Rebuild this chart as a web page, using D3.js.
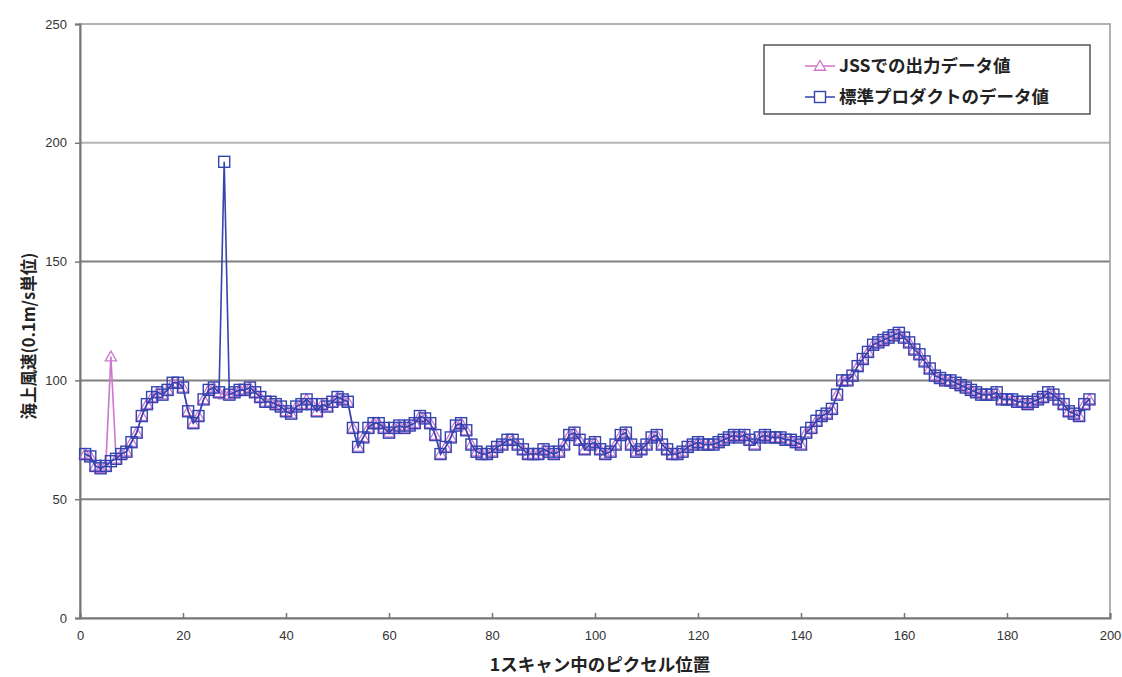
<!DOCTYPE html>
<html>
<head>
<meta charset="utf-8">
<script src="https://cdn.jsdelivr.net/npm/d3@7"></script>
<style>
  html, body { margin: 0; padding: 0; background: #fff; }
  svg { display: block; }
  .tick text { font-family: "Liberation Sans", Arial, sans-serif; font-size: 13px; fill: #333; }
</style>
</head>
<body>
<svg id="chart" width="1122" height="677"></svg>
<script>
// Pixel positions along one scan line
const pixelIndex = d3.range(1, 197);

// Standard product wind speed (0.1 m/s units)
const standardValues = [
  69, 68, 64, 63, 64, 66, 67, 69, 70, 74,
  78, 85, 90, 93, 95, 94, 96, 99, 99, 97,
  87, 82, 85, 92, 96, 97, 95, 192, 94, 95,
  96, 96, 97, 95, 93, 91, 91, 90, 89, 87,
  86, 89, 90, 92, 90, 87, 90, 89, 91, 93,
  92, 91, 80, 72, 76, 80, 82, 82, 80, 78,
  80, 81, 80, 81, 82, 85, 84, 82, 77, 69,
  72, 76, 81, 82, 79, 73, 70, 69, 69, 70,
  72, 73, 75, 75, 73, 71, 69, 69, 69, 71,
  70, 69, 70, 73, 77, 78, 75, 71, 73, 74,
  71, 69, 70, 73, 77, 78, 73, 70, 71, 73,
  76, 77, 73, 71, 69, 69, 70, 72, 73, 74,
  73, 73, 73, 74, 75, 76, 77, 76, 77, 75,
  73, 76, 77, 76, 76, 76, 75, 75, 74, 73,
  78, 80, 83, 85, 86, 88, 94, 100, 100, 102,
  106, 109, 112, 115, 116, 117, 118, 119, 120, 118,
  116, 113, 111, 108, 105, 102, 101, 100, 100, 99,
  98, 97, 96, 95, 94, 94, 94, 95, 92, 92,
  92, 91, 91, 90, 91, 92, 93, 95, 94, 92,
  90, 87, 86, 85, 90, 92
];

// JSS output wind speed (0.1 m/s units)
const jssValues = [
  69, 68, 64, 63, 64, 110, 67, 69, 70, 74,
  78, 85, 90, 93, 95, 94, 96, 99, 99, 97,
  87, 82, 85, 92, 96, 97, 95, 94, 94, 95,
  96, 96, 97, 95, 93, 91, 91, 90, 89, 87,
  86, 89, 90, 92, 90, 87, 90, 89, 91, 93,
  92, 91, 80, 72, 76, 80, 82, 82, 80, 78,
  80, 81, 80, 81, 82, 85, 84, 82, 77, 69,
  72, 76, 81, 82, 79, 73, 70, 69, 69, 70,
  72, 73, 75, 75, 73, 71, 69, 69, 69, 71,
  70, 69, 70, 73, 77, 78, 75, 71, 73, 74,
  71, 69, 70, 73, 77, 78, 73, 70, 71, 73,
  76, 77, 73, 71, 69, 69, 70, 72, 73, 74,
  73, 73, 73, 74, 75, 76, 77, 76, 77, 75,
  73, 76, 77, 76, 76, 76, 75, 75, 74, 73,
  78, 80, 83, 85, 86, 88, 94, 100, 100, 102,
  106, 109, 112, 115, 116, 117, 118, 119, 120, 118,
  116, 113, 111, 108, 105, 102, 101, 100, 100, 99,
  98, 97, 96, 95, 94, 94, 94, 95, 92, 92,
  92, 91, 91, 90, 91, 92, 93, 95, 94, 92,
  90, 87, 86, 85, 90, 92
];

const xTicks = [0, 20, 40, 60, 80, 100, 120, 140, 160, 180, 200];
const yTicks = [0, 50, 100, 150, 200, 250];

const seriesNames = ["JSSでの出力データ値", "標準プロダクトのデータ値"];
const xTitle = "1スキャン中のピクセル位置";
const yTitle = "海上風速(0.1m/s単位)";

const jssColor = "#cc77cc";
const stdColor = "#3344b0";
const jpFont = '"Noto Sans CJK JP", "Noto Sans", sans-serif';

const svg = d3.select("#chart");
const plotLeft = 80, plotRight = 1110, plotTop = 24, plotBottom = 618;

const x = d3.scaleLinear().domain([0, 200]).range([plotLeft, plotRight]);
const y = d3.scaleLinear().domain([0, 250]).range([plotBottom, plotTop]);

// Horizontal gridlines
svg.append("g")
  .selectAll("line")
  .data(yTicks.filter(v => v > 0 && v < 250))
  .join("line")
  .attr("x1", plotLeft).attr("x2", plotRight)
  .attr("y1", d => y(d)).attr("y2", d => y(d))
  .attr("stroke", d => d === 200 ? "#b4b4b4" : "#808080")
  .attr("stroke-width", 2);

// Plot frame
svg.append("rect")
  .attr("x", plotLeft).attr("y", plotTop)
  .attr("width", plotRight - plotLeft).attr("height", plotBottom - plotTop)
  .attr("fill", "none")
  .attr("stroke", "#9a9a9a")
  .attr("stroke-width", 1.5);

// Axes
const yAxis = svg.append("g")
  .attr("transform", `translate(${plotLeft},0)`)
  .call(d3.axisLeft(y).tickValues(yTicks).tickSize(5).tickPadding(8));
yAxis.select(".domain").attr("stroke", "#777").attr("stroke-width", 2);
yAxis.selectAll(".tick line").attr("stroke", "#777").attr("stroke-width", 1.5);

const xAxis = svg.append("g")
  .attr("transform", `translate(0,${plotBottom})`)
  .call(d3.axisBottom(x).tickValues(xTicks).tickSize(-5).tickPadding(10));
xAxis.select(".domain").attr("stroke", "#777").attr("stroke-width", 2);
xAxis.selectAll(".tick line").attr("stroke", "#777").attr("stroke-width", 1.5);
xAxis.selectAll(".tick text").attr("dy", "0.9em");

// Axis titles
svg.append("text")
  .attr("x", 600).attr("y", 671)
  .attr("text-anchor", "middle")
  .attr("font-family", jpFont)
  .attr("font-weight", "bold")
  .attr("font-size", 17.5)
  .attr("fill", "#222")
  .text(xTitle);

svg.append("text")
  .attr("transform", "translate(35,336) rotate(-90)")
  .attr("text-anchor", "middle")
  .attr("font-family", jpFont)
  .attr("font-weight", "bold")
  .attr("font-size", 16.5)
  .attr("fill", "#222")
  .text(yTitle);

const line = d3.line().x((d, i) => x(pixelIndex[i])).y(d => y(d));
const tri = d3.symbol().type(d3.symbolTriangle).size(55);

// JSS series: line with open triangles
svg.append("path")
  .datum(jssValues)
  .attr("d", line)
  .attr("fill", "none")
  .attr("stroke", jssColor)
  .attr("stroke-width", 1.6);

svg.append("g")
  .selectAll("path")
  .data(jssValues)
  .join("path")
  .attr("d", tri)
  .attr("transform", (d, i) => `translate(${x(pixelIndex[i])},${y(d) + 1})`)
  .attr("fill", "none")
  .attr("stroke", jssColor)
  .attr("stroke-width", 1.3);

// Standard product series: line with open squares
svg.append("path")
  .datum(standardValues)
  .attr("d", line)
  .attr("fill", "none")
  .attr("stroke", stdColor)
  .attr("stroke-width", 1.6);

const sq = 11;
svg.append("g")
  .selectAll("rect")
  .data(standardValues)
  .join("rect")
  .attr("x", (d, i) => x(pixelIndex[i]) - sq / 2)
  .attr("y", d => y(d) - sq / 2)
  .attr("width", sq).attr("height", sq)
  .attr("fill", "none")
  .attr("stroke", stdColor)
  .attr("stroke-width", 1.4);

// Legend
const legend = svg.append("g");
legend.append("rect")
  .attr("x", 764).attr("y", 45)
  .attr("width", 326).attr("height", 69)
  .attr("fill", "#fff")
  .attr("stroke", "#555")
  .attr("stroke-width", 1.5);

const rows = [
  { name: seriesNames[0], color: jssColor, marker: "tri", cy: 66 },
  { name: seriesNames[1], color: stdColor, marker: "sq", cy: 97 }
];
rows.forEach(r => {
  legend.append("line")
    .attr("x1", 805).attr("x2", 835)
    .attr("y1", r.cy).attr("y2", r.cy)
    .attr("stroke", r.color).attr("stroke-width", 1.5);
  if (r.marker === "tri") {
    legend.append("path")
      .attr("d", tri)
      .attr("transform", `translate(820,${r.cy + 1})`)
      .attr("fill", "#fff").attr("stroke", r.color).attr("stroke-width", 1.3);
  } else {
    legend.append("rect")
      .attr("x", 820 - sq / 2).attr("y", r.cy - sq / 2)
      .attr("width", sq).attr("height", sq)
      .attr("fill", "#fff").attr("stroke", r.color).attr("stroke-width", 1.4);
  }
  legend.append("text")
    .attr("x", 839).attr("y", r.cy)
    .attr("dy", "0.35em")
    .attr("font-family", jpFont)
    .attr("font-weight", "bold")
    .attr("font-size", 17.5)
    .attr("fill", "#222")
    .text(r.name);
});
</script>
</body>
</html>
